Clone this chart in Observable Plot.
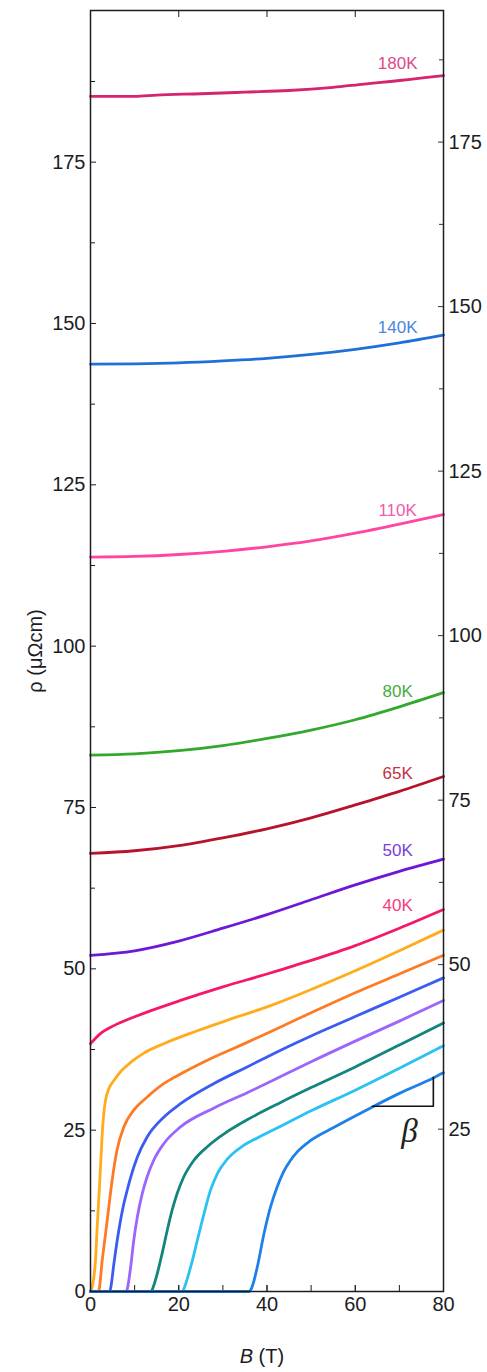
<!DOCTYPE html>
<html>
<head>
<meta charset="utf-8">
<script src="https://cdn.jsdelivr.net/npm/d3@7"></script>
<script src="https://cdn.jsdelivr.net/npm/@observablehq/plot@0.6"></script>
<style>
  html, body { margin: 0; padding: 0; background: #fff; }
  #chart svg { display: block; }
</style>
</head>
<body>
<div id="chart"></div>
<script>
// Magnetoresistance ρ(B) at fixed temperatures, fields up to 80 T.
// Each series: [B (T), ρ (μΩcm)]
const rho180K = [[0,185.2],[10,185.2],[15,185.4],[25,185.6],[35,185.85],[45,186.1],[55,186.6],[62,187.1],[68,187.5],[72,187.8],[80,188.4]];
const rho140K = [[0,143.7],[10,143.75],[20,143.9],[30,144.2],[40,144.6],[50,145.2],[60,146.0],[70,147.0],[80,148.2]];
const rho110K = [[0,113.8],[10,113.9],[20,114.2],[30,114.7],[40,115.4],[50,116.3],[60,117.5],[70,118.9],[80,120.4]];
const rho80K  = [[0,83.1],[10,83.3],[20,83.8],[30,84.6],[40,85.7],[50,87.0],[60,88.6],[70,90.6],[80,92.8]];
const rho65K  = [[0,67.9],[10,68.3],[20,69.1],[30,70.3],[40,71.7],[50,73.4],[60,75.4],[70,77.5],[80,79.8]];
const rho50K  = [[0,52.1],[10,52.8],[20,54.3],[30,56.3],[40,58.4],[50,60.7],[60,63.0],[70,65.1],[80,67.0]];
const rho40K  = [[0,38.4],[2.3,40.0],[5.3,41.2],[9,42.3],[12.8,43.3],[20.4,45.1],[30,47.2],[40,49.2],[50,51.3],[60,53.6],[70,56.3],[80,59.2]];
const rhoA = [[0,0],[0.3,0.5],[0.75,2.2],[1.13,4.8],[1.5,9.8],[1.9,14.6],[2.27,19.3],[2.65,24.4],[3.0,27.5],[3.4,29.6],[4.2,31.5],[5.3,32.7],[7,34.2],[9.1,35.5],[12,36.9],[16.6,38.4],[24.2,40.4],[31.7,42.2],[40.8,44.3],[50,46.8],[60,49.7],[70,52.8],[80,56.0]];
const rhoB = [[0,0],[1.7,0],[1.9,0.15],[2.65,4.8],[3.4,8.9],[4.15,13.1],[4.9,17.2],[6.0,21.9],[7.55,25.5],[9.8,28.1],[12.8,30.1],[16.6,32.2],[20.4,33.7],[27.9,36.3],[35.5,38.6],[43.1,41.0],[50,43.2],[60,46.3],[70,49.2],[80,52.1]];
const rhoC = [[0,0],[4.3,0],[4.5,0.3],[5.3,4.3],[6.05,7.9],[6.8,11.0],[7.55,13.6],[8.3,15.65],[9.1,17.7],[10.6,20.8],[12.8,23.9],[16.6,27.0],[20.4,29.1],[27.9,32.2],[35.5,34.8],[43.1,37.4],[50,39.6],[60,42.6],[70,45.6],[80,48.6]];
const rhoD = [[0,0],[8.1,0],[8.3,0.3],[9.1,3.8],[9.8,7.9],[10.6,11.5],[11.7,15.1],[12.8,17.7],[14.3,20.3],[16.6,22.9],[20.4,25.5],[27.9,28.4],[35.5,30.8],[43.1,33.3],[50,35.6],[60,38.8],[70,41.9],[80,45.1]];
const rhoE = [[0,0],[13.8,0],[14.0,0.3],[15.1,2.7],[16.2,5.8],[17.4,9.5],[18.5,12.6],[19.6,15.1],[21.1,17.7],[23.4,20.3],[26.4,22.4],[30.2,24.4],[35.5,26.6],[43.1,29.3],[50,31.6],[60,34.8],[70,38.2],[80,41.6]];
const rhoF = [[0,0],[20.9,0],[21.1,0.3],[22.7,3.8],[24.2,7.9],[25.7,12.0],[27.2,15.7],[28.7,18.2],[31.0,20.5],[34.0,22.3],[37.8,23.8],[43.1,25.6],[50,28.0],[60,31.2],[70,34.6],[80,38.1]];
const rhoG = [[0,0],[36.0,0],[36.5,0.5],[37.8,3.8],[39.3,8.9],[40.8,13.1],[42.3,16.2],[43.8,18.6],[45.3,20.3],[46.8,21.6],[49.9,23.4],[55.1,25.4],[58.9,26.8],[63.9,28.6],[70,30.7],[77.7,33.1],[80,33.9]];

const seriesData = [rho180K, rho140K, rho110K, rho80K, rho65K, rho50K, rho40K, rhoA, rhoB, rhoC, rhoD, rhoE, rhoF, rhoG];
const seriesColors = ["#d6246e","#1f6fd8","#ff44a4","#32a82c","#b5142c","#6c18d6","#f5186a",
                      "#ffab1c","#ff7a24","#3b5cf2","#9a66fb","#13857f","#2bc1f2","#1e80e8"];

// Temperature labels
const tempNames = ["180K","140K","110K","80K","65K","50K","40K"];
const tempColors = ["#dc4b88","#4a86e0","#f35aa9","#46ac3e","#c23346","#7d3be0","#f23d80"];
const tempLabelRho = [190.3, 149.4, 121.0, 92.9, 80.2, 68.35, 59.8];
const tempLabelB = 69.6;

// Axis ticks
const bTicks = [0,10,20,30,40,50,60,70,80];
const bLabels = [0,20,40,60,80];
const bTopTicks = [20,40,60];
const rhoTicks = [0,25,50,75,100,125,150,175];
const rhoMinor = [12.5,37.5,62.5,87.5,112.5,137.5,162.5,187.5];
const rightTicks = [25,50,75,100,125,150,175];
const rightMinor = [37.5,62.5,87.5,112.5,137.5,162.5,187.5];

// Slope marker (β) drawn against the lowest curve
const betaCorner = [[63.9,28.7],[77.7,28.7],[77.7,33.2]];
const betaLabel = [[72.3, 24.8]];

const yDomain = [0, 198.5];
const rightDomain = [0.33, 195.0];
const rightToLeft = d3.scaleLinear().domain(rightDomain).range(yDomain);

const font = "'Liberation Sans', Arial, Helvetica, sans-serif";
const ink = "#1c1c24";

const lines = seriesData.map((pts, i) =>
  Plot.line(pts, {x: d => d[0], y: d => d[1], stroke: seriesColors[i], strokeWidth: 2.8, curve: "monotone-x"})
);

const chart = Plot.plot({
  width: 487,
  height: 1372,
  marginLeft: 90,
  marginRight: 44,
  marginTop: 10,
  marginBottom: 81,
  style: {fontFamily: font, background: "#fff"},
  x: {domain: [0, 80]},
  y: {domain: yDomain},
  marks: [
    // left axis
    Plot.axisY({ticks: rhoTicks, tickSize: -6, tickPadding: 11, fontSize: 20, label: null, stroke: ink, fill: ink, tickFormat: d => d}),
    Plot.axisY({ticks: rhoMinor, tickSize: -5, tickPadding: 0, label: null, stroke: ink, tickFormat: () => ""}),
    // right axis (own calibration)
    Plot.axisY({anchor: "right", ticks: rightTicks.map(rightToLeft), tickSize: -6, tickPadding: 11, fontSize: 20, label: null, stroke: "#333", fill: ink,
                tickFormat: d => Math.round(rightToLeft.invert(d))}),
    Plot.axisY({anchor: "right", ticks: rightMinor.map(rightToLeft), tickSize: -5, tickPadding: 0, label: null, stroke: "#333", tickFormat: () => ""}),
    // bottom axis
    Plot.axisX({ticks: bLabels, tickSize: -6, tickPadding: 11, fontSize: 20, label: null, stroke: ink, fill: ink, tickFormat: d => d}),
    Plot.axisX({ticks: bTicks, tickSize: -6, tickPadding: 0, label: null, stroke: ink, tickFormat: () => ""}),
    // top axis
    Plot.axisX({anchor: "top", ticks: bTopTicks, tickSize: -6, tickPadding: 0, label: null, stroke: ink, tickFormat: () => ""}),
    ...lines,
    Plot.frame({stroke: ink, strokeWidth: 1.5}),
    Plot.text(tempNames, {x: tempLabelB, y: (d, i) => tempLabelRho[i], text: d => d, fill: (d, i) => tempColors[i], fontSize: 17, textAnchor: "middle"}),
    Plot.line(betaCorner, {x: d => d[0], y: d => d[1], stroke: "#111", strokeWidth: 1.6}),
    Plot.text(betaLabel, {x: d => d[0], y: d => d[1], text: () => "β", fontSize: 33, fontStyle: "italic", fontFamily: "'Liberation Serif', 'DejaVu Serif', serif", fill: "#222"}),
    // axis titles
    Plot.text(["ρ (μΩcm)"], {frameAnchor: "left", textAnchor: "middle", lineAnchor: "middle", rotate: -90, dx: -55, fontSize: 20, fill: ink}),
    Plot.text(["B"], {frameAnchor: "bottom", dx: -14, dy: 71, textAnchor: "end", fontSize: 20, fontStyle: "italic", fill: ink}),
    Plot.text(["\u00a0(T)"], {frameAnchor: "bottom", dx: -14, dy: 71, textAnchor: "start", fontSize: 20, fill: ink})
  ]
});

document.getElementById("chart").append(chart);
</script>
</body>
</html>
